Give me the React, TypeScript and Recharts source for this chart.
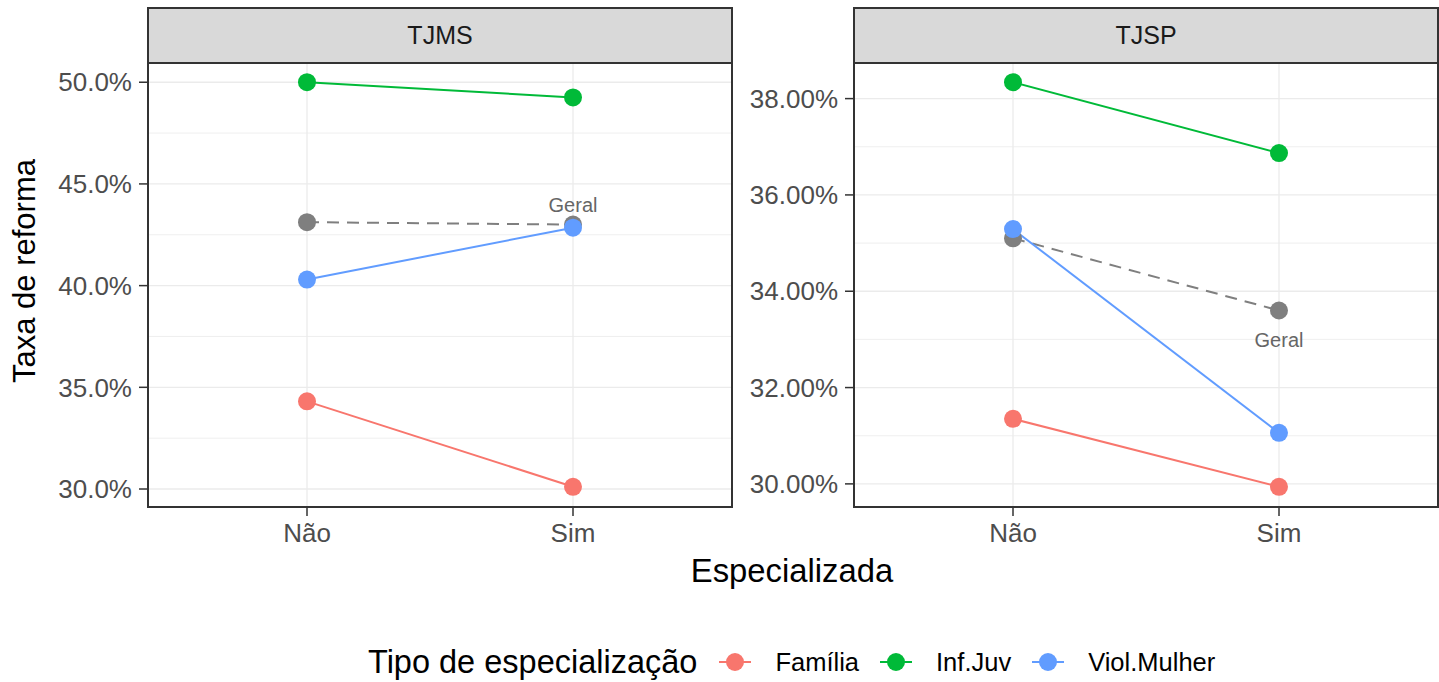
import React from "react";
import { CartesianGrid, LabelList, Line, LineChart, ReferenceLine, XAxis, YAxis } from "recharts";

const categories = ["Não", "Sim"];

const tjmsFamilia = [34.31, 30.11];
const tjmsInfJuv = [50.0, 49.25];
const tjmsViolMulher = [40.3, 42.85];
const tjmsGeral = [43.12, 43.0];

const tjspFamilia = [31.35, 29.94];
const tjspInfJuv = [38.34, 36.87];
const tjspViolMulher = [35.29, 31.06];
const tjspGeral = [35.1, 33.6];

const tjmsTicks = [30, 35, 40, 45, 50];
const tjmsMinor = [32.5, 37.5, 42.5, 47.5];
const tjspTicks = [30, 32, 34, 36, 38];
const tjspMinor = [31, 33, 35, 37];

const legendNames = ["Família", "Inf.Juv", "Viol.Mulher"];
const colors = ["#F8766D", "#00BA38", "#619CFF"];
const geralColor = "#7F7F7F";

const FONT = "'Liberation Sans', Arial, sans-serif";

function buildRows(fam: number[], inf: number[], viol: number[], geral: number[]) {
  return categories.map((x, i) => ({ x, fam: fam[i], inf: inf[i], viol: viol[i], geral: geral[i] }));
}

// ggplot-like 5% expansion of the data range
function expandDomain(rows: ReturnType<typeof buildRows>): [number, number] {
  const vals = rows.flatMap((r) => [r.fam, r.inf, r.viol, r.geral]);
  const lo = Math.min(...vals);
  const hi = Math.max(...vals);
  const pad = (hi - lo) * 0.05;
  return [lo - pad, hi + pad];
}

const PLOT_TOP = 62;
const PLOT_H = 445;
const PLOT_W = 584;

type PanelProps = {
  title: string;
  rows: ReturnType<typeof buildRows>;
  ticks: number[];
  minor: number[];
  digits: number;
  left: number;
  axisWidth: number;
  labelDy: number;
};

function Panel({ title, rows, ticks, minor, digits, left, axisWidth, labelDy }: PanelProps) {
  const plotLeft = left + axisWidth;
  const domain = expandDomain(rows);
  const dot = (c: string) => ({ r: 9, fill: c, stroke: c, strokeWidth: 0 });
  return (
    <>
      <LineChart
        width={axisWidth + PLOT_W}
        height={PLOT_H + 45}
        data={rows}
        margin={{ top: 0, right: 0, bottom: 0, left: 0 }}
        style={{ position: "absolute", left, top: PLOT_TOP }}
      >
        <CartesianGrid stroke="#EBEBEB" strokeWidth={1.3} />
        {minor.map((v) => (
          <ReferenceLine key={v} y={v} stroke="#EBEBEB" strokeWidth={0.8} />
        ))}
        <XAxis
          dataKey="x"
          padding={{ left: 159, right: 159 }}
          axisLine={false}
          tickSize={9}
          tickMargin={8}
          height={45}
          tickLine={{ stroke: "#333333", strokeWidth: 1.5 }}
          tick={{ fill: "#4D4D4D", fontSize: 26, fontFamily: FONT }}
        />
        <YAxis
          type="number"
          domain={domain}
          allowDataOverflow
          ticks={ticks}
          interval={0}
          width={axisWidth}
          axisLine={false}
          tickSize={9}
          tickMargin={7}
          tickLine={{ stroke: "#333333", strokeWidth: 1.5 }}
          tick={{ fill: "#4D4D4D", fontSize: 26, fontFamily: FONT }}
          tickFormatter={(v: number) => `${v.toFixed(digits)}%`}
        />
        <Line
          dataKey="geral"
          stroke={geralColor}
          strokeWidth={2}
          strokeDasharray="12 8"
          dot={dot(geralColor)}
          activeDot={false}
          isAnimationActive={false}
        >
          <LabelList
            dataKey="geral"
            content={(p: any) =>
              p.index === 1 ? (
                <text
                  x={p.x}
                  y={p.y + labelDy}
                  textAnchor="middle"
                  fill="#666666"
                  fontSize={20}
                  fontFamily={FONT}
                >
                  Geral
                </text>
              ) : null
            }
          />
        </Line>
        <Line dataKey="fam" stroke={colors[0]} strokeWidth={2} dot={dot(colors[0])} activeDot={false} isAnimationActive={false} />
        <Line dataKey="inf" stroke={colors[1]} strokeWidth={2} dot={dot(colors[1])} activeDot={false} isAnimationActive={false} />
        <Line dataKey="viol" stroke={colors[2]} strokeWidth={2} dot={dot(colors[2])} activeDot={false} isAnimationActive={false} />
      </LineChart>
      <div
        style={{
          position: "absolute",
          left: plotLeft - 1,
          top: PLOT_TOP - 1,
          width: PLOT_W - 2,
          height: PLOT_H - 2,
          border: "2px solid #333333",
          pointerEvents: "none",
        }}
      />
      <div
        style={{
          position: "absolute",
          left: plotLeft - 1,
          top: 7,
          width: PLOT_W - 2,
          height: PLOT_TOP - 7 - 2,
          border: "2px solid #333333",
          background: "#D9D9D9",
          display: "flex",
          alignItems: "center",
          justifyContent: "center",
          fontSize: 25,
          color: "#1A1A1A",
        }}
      >
        {title}
      </div>
    </>
  );
}

function LegendKey({ color }: { color: string }) {
  return (
    <svg width={40} height={40} style={{ display: "block" }}>
      <line x1={4} y1={20} x2={36} y2={20} stroke={color} strokeWidth={2} />
      <circle cx={20} cy={20} r={9} fill={color} />
    </svg>
  );
}

export default function App() {
  const tjms = buildRows(tjmsFamilia, tjmsInfJuv, tjmsViolMulher, tjmsGeral);
  const tjsp = buildRows(tjspFamilia, tjspInfJuv, tjspViolMulher, tjspGeral);
  return (
    <div
      style={{
        position: "absolute",
        left: 0,
        top: 0,
        width: 1439,
        height: 682,
        background: "#FFFFFF",
        fontFamily: FONT,
        overflow: "hidden",
      }}
    >
      <Panel title="TJMS" rows={tjms} ticks={tjmsTicks} minor={tjmsMinor} digits={1} left={0} axisWidth={148} labelDy={-13} />
      <Panel title="TJSP" rows={tjsp} ticks={tjspTicks} minor={tjspMinor} digits={2} left={734} axisWidth={120} labelDy={36} />

      <div
        style={{
          position: "absolute",
          left: 24,
          top: 271,
          transform: "translate(-50%, -50%) rotate(-90deg)",
          whiteSpace: "nowrap",
          fontSize: 31,
          lineHeight: 1,
          color: "#000000",
        }}
      >
        Taxa de reforma
      </div>

      <div
        style={{
          position: "absolute",
          left: 792,
          top: 555,
          transform: "translateX(-50%)",
          whiteSpace: "nowrap",
          fontSize: 32.8,
          lineHeight: 1,
          color: "#000000",
        }}
      >
        Especializada
      </div>

      <div
        style={{
          position: "absolute",
          left: 368,
          top: 642,
          height: 40,
          display: "flex",
          alignItems: "center",
          whiteSpace: "nowrap",
        }}
      >
        <span style={{ fontSize: 32.5, color: "#000000", marginRight: 18 }}>Tipo de especialização</span>
        {legendNames.map((name, i) => (
          <React.Fragment key={name}>
            <LegendKey color={colors[i]} />
            <span style={{ fontSize: 25.5, color: "#000000", marginLeft: 20, marginRight: 17 }}>{name}</span>
          </React.Fragment>
        ))}
      </div>
    </div>
  );
}
